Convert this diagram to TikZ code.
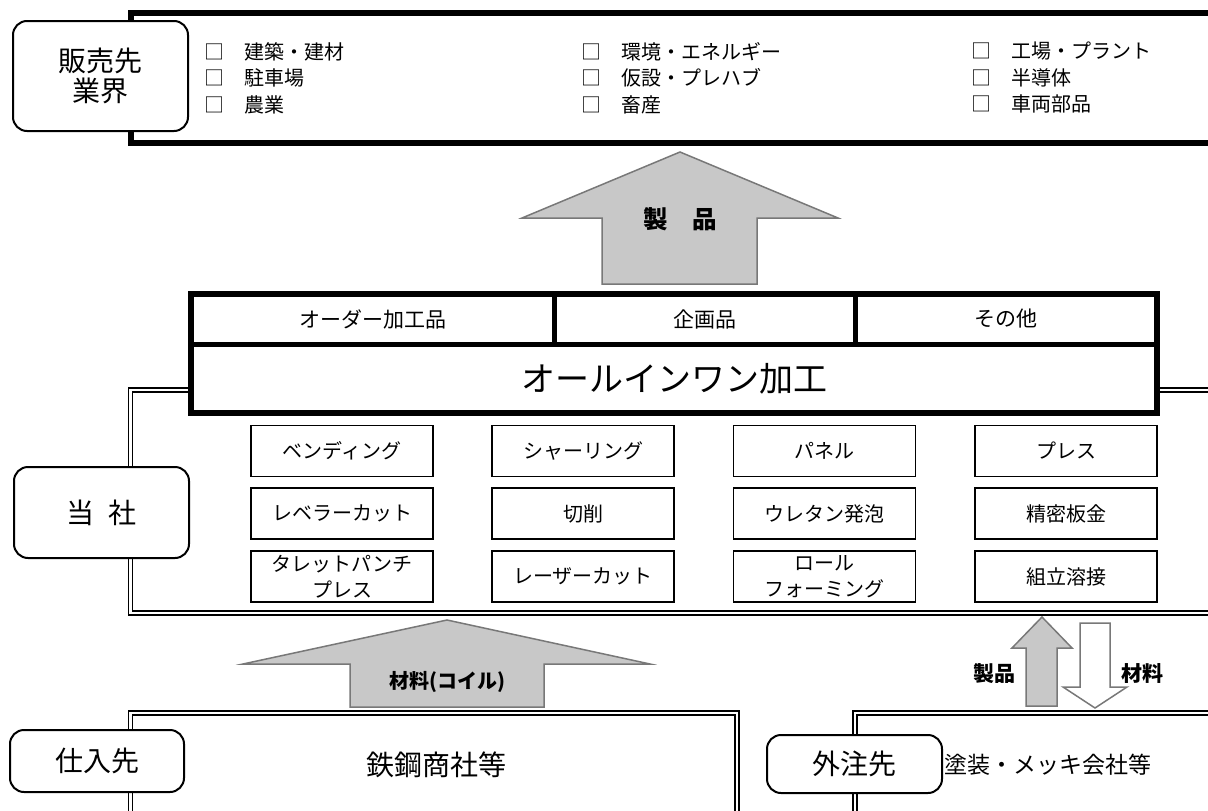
\documentclass[tikz,border=0pt]{standalone}
\usepackage{fontspec}
\setmainfont{Noto Sans CJK JP}
\definecolor{arrfill}{RGB}{200,200,200}
\definecolor{arrline}{RGB}{120,120,120}
\tikzset{
  lbl/.style={draw, line width=2pt, rounded corners=14pt, fill=white, inner sep=0pt, font=\fontsize{28}{30}\selectfont, align=center},
  pbox/.style={draw, line width=1.8pt, minimum width=182pt, minimum height=51pt, inner sep=0pt, font=\fontsize{20}{26}\selectfont, align=center},
  dbl/.style={draw, line width=1.5pt, double=white, double distance=2.4pt},
  thickframe/.style={line width=6.5pt},
  blockarr/.style={draw=arrline, line width=1.5pt, fill=arrfill, line join=miter},
  whitearr/.style={draw=arrline, line width=1.5pt, fill=white, line join=miter},
  arrlbl/.style={inner sep=0pt, font=\bfseries\fontsize{21}{24}\selectfont},
  listtxt/.style={anchor=west, align=left, inner sep=0pt, font=\fontsize{20}{26.5}\selectfont},
  celltxt/.style={inner sep=0pt, font=\fontsize{21}{25}\selectfont},
  bigtxt/.style={inner sep=0pt, font=\fontsize{28}{32}\selectfont},
}
\begin{document}
\begin{tikzpicture}[x=1pt, y=-1pt]
\useasboundingbox (0,0) rectangle (1208,811);
\clip (0,0) rectangle (1208,811);

% ---- customers frame
\draw[thickframe] (1220,13) -- (131,13) -- (131,143) -- (1220,143);
\node[listtxt] (list1) at (204,78) {□　建築・建材\\□　駐車場\\□　農業};
\node[listtxt] (list2) at (581,78) {□　環境・エネルギー\\□　仮設・プレハブ\\□　畜産};
\node[listtxt] (list3) at (971,78) {□　工場・プラント\\□　半導体\\□　車両部品};

% ---- product arrow
\draw[blockarr] (680,152) -- (838,218) -- (757,218) -- (757,284) -- (602,284) -- (602,218) -- (522,218) -- cycle;
\node[arrlbl, font=\bfseries\fontsize{24.5}{28}\selectfont] (seihin) at (680,219) {製　品};

% ---- company double frame
\draw[dbl] (1220,390) -- (130.5,390) -- (130.5,613) -- (1220,613);

% ---- all-in-one block
\fill[white] (191,294) rectangle (1157,413);
\draw[line width=6pt] (191,294) rectangle (1157,413);
\draw[line width=5pt] (191,344) -- (1157,344) (554,294) -- (554,344) (855,294) -- (855,344);
\node[celltxt] (order) at (372.5,319) {オーダー加工品};
\node[celltxt] (kikaku) at (704.5,319) {企画品};
\node[celltxt] (sonota) at (1006,319) {その他};
\node[inner sep=0pt, font=\fontsize{34}{38}\selectfont] (allin) at (674,379) {オールインワン加工};

% ---- process boxes
\node[pbox] (b11) at (342,451) {ベンディング};
\node[pbox] (b12) at (583,451) {シャーリング};
\node[pbox] (b13) at (824.5,451) {パネル};
\node[pbox] (b14) at (1066,451) {プレス};
\node[pbox] (b21) at (342,513.5) {レベラーカット};
\node[pbox] (b22) at (583,513.5) {切削};
\node[pbox] (b23) at (824.5,513.5) {ウレタン発泡};
\node[pbox] (b24) at (1066,513.5) {精密板金};
\node[pbox] (b31) at (342,576.5) {タレットパンチ\\プレス};
\node[pbox] (b32) at (583,576.5) {レーザーカット};
\node[pbox] (b33) at (824.5,576.5) {ロール\\フォーミング};
\node[pbox] (b34) at (1066,576.5) {組立溶接};

% ---- supplier / subcontractor frames
\draw[dbl] (130.5,820) -- (130.5,713) -- (737,713) -- (737,820);
\draw[dbl] (855,820) -- (855,713) -- (1220,713);

% ---- material arrow
\draw[blockarr] (447,620) -- (650,664) -- (544,664) -- (544,707) -- (350,707) -- (350,664) -- (243,664) -- cycle;
\node[arrlbl, font=\bfseries\fontsize{20}{22}\selectfont] (zairyo) at (447,682) {材料(コイル)};

% ---- subcontract arrows
\draw[blockarr] (1042,617) -- (1072,648) -- (1057,648) -- (1057,706) -- (1026,706) -- (1026,648) -- (1012,648) -- cycle;
\draw[whitearr] (1080,623) -- (1110,623) -- (1110,687) -- (1127,687) -- (1095,708) -- (1063,687) -- (1080,687) -- cycle;
\node[arrlbl] (seihin2) at (994,674) {製品};
\node[arrlbl] (zairyo2) at (1142,674) {材料};

% ---- label boxes
\node[lbl, minimum width=175pt, minimum height=110pt] (hanbai) at (100.5,76) {販売先\\業界};
\node[lbl, minimum width=175pt, minimum height=91pt] (tosha) at (101.5,512.5) {当\hspace{14pt}社};
\node[lbl, minimum width=174pt, minimum height=62pt] (shiire) at (97,761) {仕入先};
\node[lbl, minimum width=175pt, minimum height=58pt] (gaichu) at (854.5,764) {外注先};

\node[bigtxt] (tekko) at (436,765) {鉄鋼商社等};
\node[inner sep=0pt, anchor=west, font=\fontsize{23}{26}\selectfont] (tosou) at (944,765) {塗装・メッキ会社等};
\end{tikzpicture}
\end{document}
